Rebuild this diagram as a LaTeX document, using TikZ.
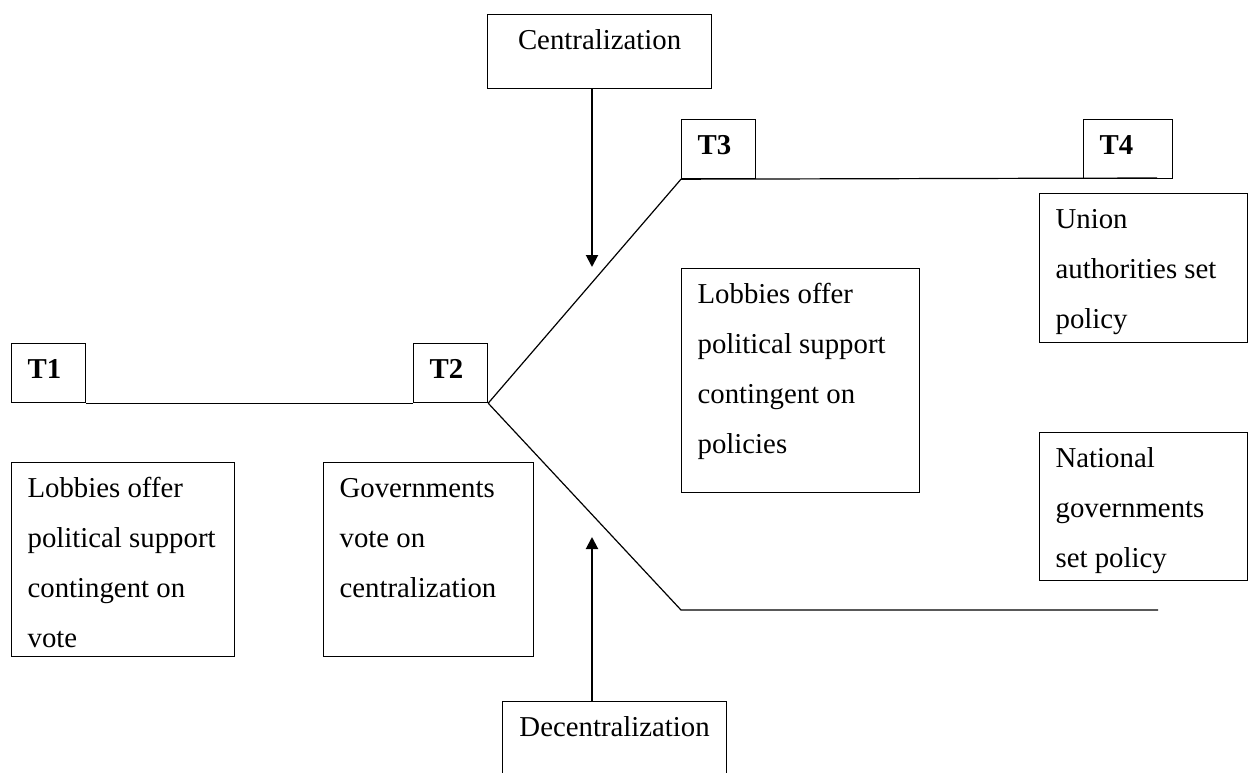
\documentclass[tikz,border=0pt]{standalone}
\usepackage{fontspec}
\setmainfont{Liberation Serif}
\usetikzlibrary{arrows.meta}
\newcommand{\btxt}[3]{\parbox[t][#1][t]{#2}{\raggedright\strut #3}}
\newcommand{\ctxt}[3]{\parbox[t][#1][t]{#2}{\centering\strut #3}}
\tikzset{
  box/.style={draw, line width=1.2pt, anchor=north west, inner xsep=16pt, inner ysep=0pt},
  cbox/.style={draw, line width=1.2pt, anchor=north west, inner sep=0pt},
  conn/.style={line width=1.2pt},
  arr/.style={line width=2pt, -{Triangle[length=12pt,width=12pt]}}
}
\begin{document}
\begin{tikzpicture}[x=1pt, y=-1pt, font=\fontsize{28.8}{50}\selectfont]
\useasboundingbox (0,0) rectangle (1248,773);
\clip (0,0) rectangle (1248,773);
% time-step boxes
\node[box] (T1) at (11,343) {\btxt{59pt}{42pt}{\bfseries T1}};
\node[box] (T2) at (413,343) {\btxt{59pt}{42pt}{\bfseries T2}};
\node[box] (T3) at (681,119) {\btxt{59pt}{42pt}{\bfseries T3}};
\node[box] (T4) at (1083,119) {\btxt{59pt}{57pt}{\bfseries T4}};
% decision boxes
\node[cbox] (cent) at (487,14) {\ctxt{74pt}{224pt}{Centralization}};
\node[cbox] (decent) at (502,701) {\ctxt{110pt}{224pt}{Decentralization}};
% description boxes
\node[box] (L1) at (11,462) {\btxt{194pt}{191pt}{Lobbies offer\\political support\\contingent on\\vote}};
\node[box] (gov) at (323,462) {\btxt{194pt}{178pt}{Governments\\vote on\\centralization}};
\node[box] (L3) at (681,268) {\btxt{224pt}{206pt}{Lobbies offer\\political support\\contingent on\\policies}};
\node[box] (union) at (1039,193) {\btxt{149pt}{176pt}{Union\\authorities set\\policy}};
\node[box] (nat) at (1039,432) {\btxt{148pt}{176pt}{National\\governments\\set policy}};
% branches
\coordinate (lowA) at (681,610);
\coordinate (lowB) at (1158,610);
\coordinate (upB) at (1157,178);
\draw[conn] (T1.south east) -- (T2.south west);
\draw[conn] (T2.south east) -- (T3.south west) -- (upB);
\draw[conn] (T2.south east) -- (lowA) -- (lowB);
% arrows
\coordinate (ctip) at (592,267);
\coordinate (dtip) at (592,537);
\draw[arr] (ctip |- cent.south) -- (ctip);
\draw[arr] (dtip |- decent.north) -- (dtip);
\end{tikzpicture}
\end{document}
